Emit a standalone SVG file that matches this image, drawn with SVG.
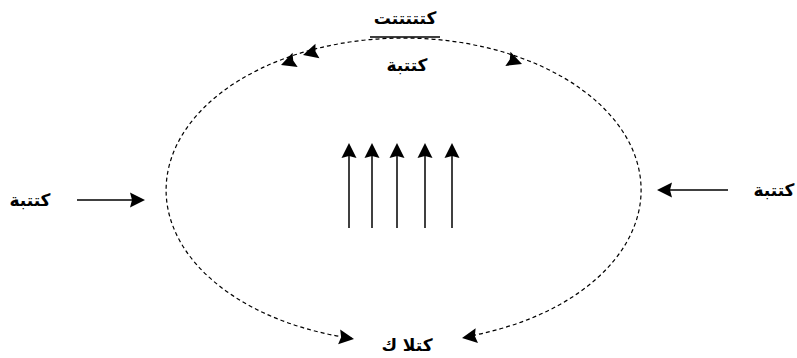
<svg xmlns="http://www.w3.org/2000/svg" width="797" height="358" viewBox="0 0 797 358">
<style>
.lbl{font-family:"DejaVu Sans","Noto Sans",sans-serif;font-size:17px;font-weight:bold;fill:#000;text-anchor:middle}
.ln{stroke:#000;stroke-width:1.5;fill:none}
.dash{stroke:#000;stroke-width:1.2;fill:none;stroke-dasharray:4 3}
.ah{fill:#000}
</style>
<defs>
<path id="ah" d="M0,0 L-15,-7.5 L-13,0 L-15,7.5 Z"/>
</defs>
<rect width="797" height="358" fill="#fff"/>
<g id="connectors">
<path class="dash" d="M352,338.4 A237.5,152 0 1 1 463,337.2"/>
<line class="ln" x1="370" y1="37" x2="440" y2="37"/>
<line class="ln" x1="77" y1="200" x2="133" y2="200"/>
<use href="#ah" class="ah" transform="translate(145,200)"/>
<line class="ln" x1="728" y1="190" x2="670" y2="190"/>
<use href="#ah" class="ah" transform="translate(657,190) rotate(180)"/>
<use href="#ah" class="ah" transform="translate(281,65) rotate(160)"/>
<use href="#ah" class="ah" transform="translate(303,55) rotate(164.5)"/>
<use href="#ah" class="ah" transform="translate(522,64) rotate(20)"/>
<use href="#ah" class="ah" transform="translate(354,339) rotate(8)"/>
<use href="#ah" class="ah" transform="translate(462,338) rotate(171)"/>
<g id="flow">
<line class="ln" x1="349" y1="228" x2="349" y2="154"/>
<use href="#ah" class="ah" transform="translate(349,143) rotate(-90)"/>
<line class="ln" x1="372" y1="228" x2="372" y2="154"/>
<use href="#ah" class="ah" transform="translate(372,143) rotate(-90)"/>
<line class="ln" x1="397" y1="228" x2="397" y2="154"/>
<use href="#ah" class="ah" transform="translate(397,143) rotate(-90)"/>
<line class="ln" x1="425" y1="228" x2="425" y2="154"/>
<use href="#ah" class="ah" transform="translate(425,143) rotate(-90)"/>
<line class="ln" x1="452" y1="228" x2="452" y2="154"/>
<use href="#ah" class="ah" transform="translate(452,143) rotate(-90)"/>
</g>
</g>
<g id="top-label"><text class="lbl" x="405" y="24">كتتتتتت</text></g>
<g id="inner-label"><text class="lbl" x="407" y="71">كتتبة</text></g>
<g id="left-label"><text class="lbl" x="30" y="206">كتتبة</text></g>
<g id="right-label"><text class="lbl" x="774" y="196">كتتبة</text></g>
<g id="bottom-label"><text class="lbl" x="407" y="351">كتلا ك</text></g>
</svg>
